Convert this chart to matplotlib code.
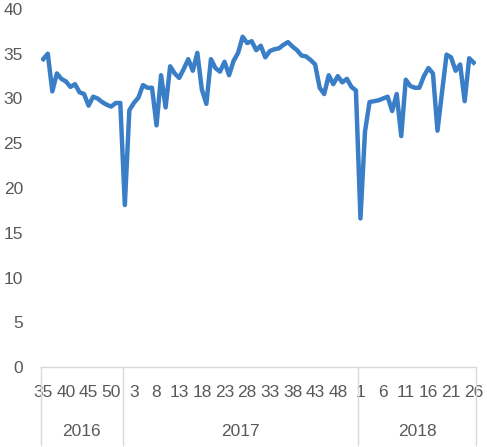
import numpy as np
import matplotlib.pyplot as plt

# weekly values
weeks_2016 = list(range(35, 53))
vals_2016 = [34.4, 35.0, 30.8, 32.8, 32.2, 31.9, 31.3, 31.6, 30.7, 30.5,
             29.2, 30.2, 30.0, 29.6, 29.3, 29.1, 29.5, 29.5]
weeks_2017 = list(range(1, 53))
vals_2017 = [18.1, 28.7, 29.5, 30.1, 31.5, 31.2, 31.2, 27.0, 32.6, 29.0,
             33.6, 32.8, 32.3, 33.3, 34.4, 33.1, 35.1, 31.0, 29.4, 34.4,
             33.4, 33.0, 34.1, 32.6, 34.2, 35.1, 36.9, 36.2, 36.4, 35.4,
             35.9, 34.6, 35.3, 35.5, 35.6, 36.0, 36.3, 35.8, 35.4, 34.8,
             34.7, 34.3, 33.8, 31.2, 30.5, 32.6, 31.6, 32.5, 31.8, 32.2,
             31.3, 30.9]
weeks_2018 = list(range(1, 27))
vals_2018 = [16.6, 26.3, 29.6, 29.7, 29.8, 30.0, 30.2, 28.6, 30.5, 25.8,
             32.1, 31.4, 31.2, 31.2, 32.5, 33.4, 32.8, 26.4, 30.7, 34.9,
             34.6, 33.1, 33.8, 29.7, 34.5, 34.0]
years = ['2016', '2017', '2018']

COLOR = '#3a7ec8'
GRAY = '#595959'
LINE_GRAY = '#d9d9d9'
FONT = 'Liberation Sans'
FS = 12.5

weeks = weeks_2016 + weeks_2017 + weeks_2018
values = vals_2016 + vals_2017 + vals_2018
x = np.arange(len(values))
counts = [len(weeks_2016), len(weeks_2017), len(weeks_2018)]

W, H = 487, 447
top, base = 9, 367
fig = plt.figure(figsize=(W / 100, H / 100), dpi=100)
ax = fig.add_axes([41 / W, (H - base) / H, (476 - 41) / W, (base - top) / H])

ax.plot(x, values, color=COLOR, lw=3.2, solid_joinstyle='round')

ax.set_xlim(-0.5, len(values) - 0.5)
ax.set_ylim(0, 40)
ax.set_yticks(np.arange(0, 41, 5))
ax.set_xticks(x[::5])
ax.set_xticklabels([str(w) for w in weeks[::5]])
ax.tick_params(axis='y', length=0, pad=13, labelcolor=GRAY, labelsize=FS)
ax.tick_params(axis='x', length=0, pad=13, labelcolor=GRAY, labelsize=FS)
for lab in ax.get_xticklabels() + ax.get_yticklabels():
    lab.set_fontfamily(FONT)

for s in ['top', 'right', 'left']:
    ax.spines[s].set_visible(False)
ax.spines['bottom'].set_color(LINE_GRAY)
ax.spines['bottom'].set_linewidth(1)

# year group separators and labels
trans = ax.get_xaxis_transform()
edges = np.concatenate([[0], np.cumsum(counts)]) - 0.5
ybot = -(445 - base) / (base - top)
for e in edges:
    ax.plot([e, e], [0, ybot], transform=trans, color=LINE_GRAY, lw=1, clip_on=False)
for i, yr in enumerate(years):
    ax.text((edges[i] + edges[i + 1]) / 2, -(431 - base) / (base - top), yr,
            transform=trans, ha='center', va='center', color=GRAY,
            fontsize=FS, fontfamily=FONT)

fig.savefig('out.png', dpi=100)
